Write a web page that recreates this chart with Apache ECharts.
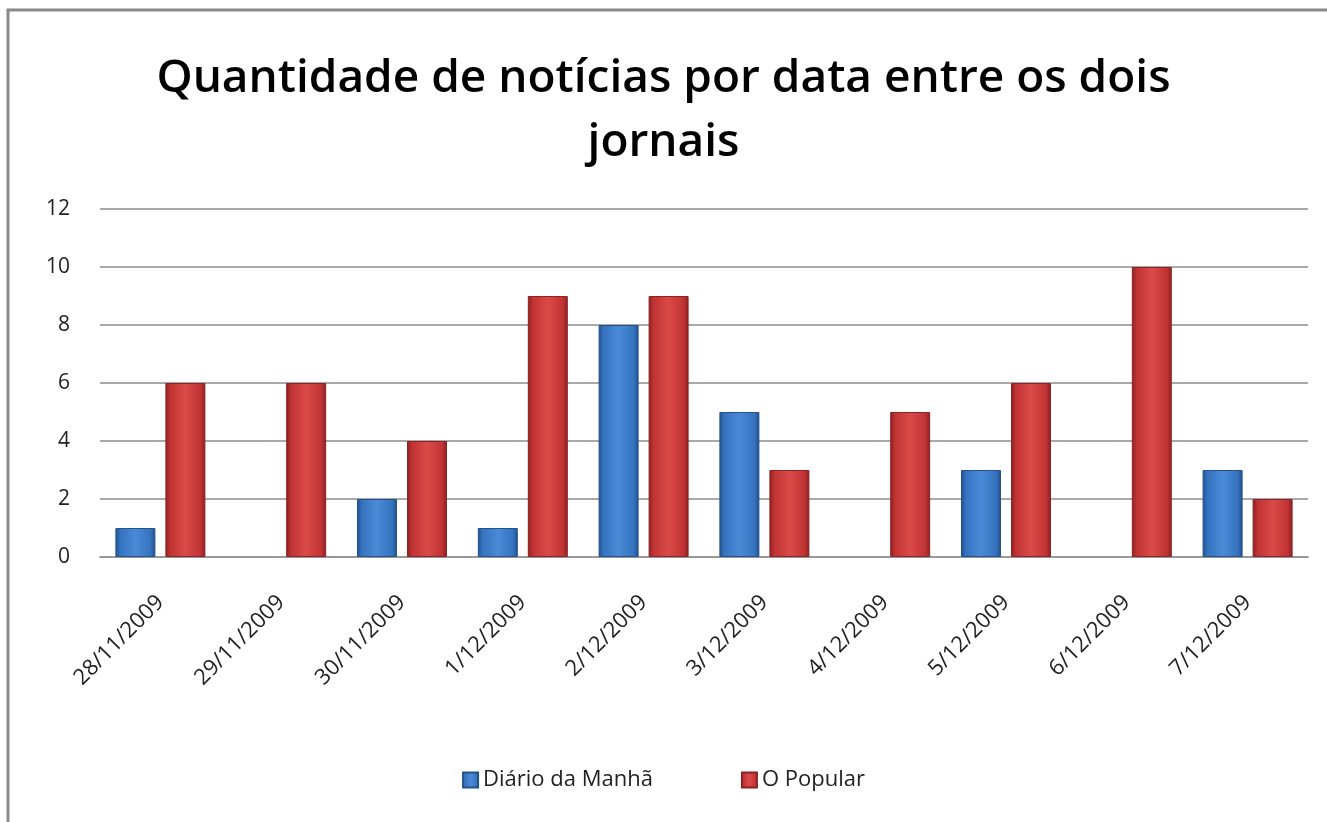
<!DOCTYPE html>
<html>
<head>
<meta charset="utf-8">
<script src="https://cdn.jsdelivr.net/npm/echarts@6/dist/echarts.min.js"></script>
<style>
  html, body { margin: 0; padding: 0; background: #fff; }
  #chart { width: 1327px; height: 822px; }
</style>
</head>
<body>
<div id="chart"></div>
<script>
const dates = ['28/11/2009', '29/11/2009', '30/11/2009', '1/12/2009', '2/12/2009',
  '3/12/2009', '4/12/2009', '5/12/2009', '6/12/2009', '7/12/2009']
const diarioDaManha = [1, 0, 2, 1, 8, 5, 0, 3, 0, 3]
const oPopular = [6, 6, 4, 9, 9, 3, 5, 6, 10, 2]
const yTicks = { min: 0, max: 12, interval: 2 }

const font = '"Open Sans", "Liberation Sans", sans-serif'

// bevelled look of the old office bars
function bevel(dark, mid, light) {
  return new echarts.graphic.LinearGradient(0, 0, 1, 0, [
    { offset: 0, color: dark },
    { offset: 0.12, color: mid },
    { offset: 0.5, color: light },
    { offset: 0.88, color: mid },
    { offset: 1, color: dark }
  ])
}

// empty days draw no bar at all
const noZero = arr => arr.map(v => (v === 0 ? '-' : v))

const chart = echarts.init(document.getElementById('chart'))
chart.setOption({
  animation: false,
  backgroundColor: '#fff',
  graphic: [{
    type: 'rect',
    shape: { x: 8, y: 10, width: 1340, height: 830 },
    style: { fill: 'none', stroke: '#8a8a8a', lineWidth: 3 },
    silent: true
  }],
  title: {
    text: 'Quantidade de notícias por data entre os dois\njornais',
    left: 'center',
    top: 42,
    textStyle: {
      fontFamily: font,
      fontSize: 46,
      fontWeight: 600,
      color: '#000',
      lineHeight: 64
    }
  },
  legend: {
    bottom: 26,
    left: 'center',
    itemWidth: 15,
    itemHeight: 15,
    itemGap: 88,
    icon: 'rect',
    textStyle: { fontFamily: font, fontSize: 22, color: '#222' },
    data: ['Diário da Manhã', 'O Popular']
  },
  grid: { left: 100, right: 19, top: 209, bottom: 265 },
  xAxis: {
    type: 'category',
    data: dates,
    axisLine: { lineStyle: { color: '#999', width: 2 } },
    axisTick: { show: false },
    axisLabel: {
      rotate: 45,
      interval: 0,
      margin: 42,
      fontFamily: font,
      fontSize: 22,
      color: '#222'
    }
  },
  yAxis: {
    type: 'value',
    min: yTicks.min,
    max: yTicks.max,
    interval: yTicks.interval,
    axisLine: { show: false },
    axisTick: { show: false },
    axisLabel: { margin: 30, fontFamily: font, fontSize: 21, color: '#222' },
    splitLine: { lineStyle: { color: '#8c8c8c', width: 1.5 } }
  },
  series: [
    {
      name: 'Diário da Manhã',
      type: 'bar',
      data: noZero(diarioDaManha),
      barWidth: 40,
      barGap: '25%',
      itemStyle: {
        color: bevel('#1f4f8c', '#3573bf', '#4a8ad6'),
        borderColor: '#24528a',
        borderWidth: 1
      }
    },
    {
      name: 'O Popular',
      type: 'bar',
      data: noZero(oPopular),
      barWidth: 40,
      itemStyle: {
        color: bevel('#8a1f20', '#c03334', '#da4a48'),
        borderColor: '#8c2324',
        borderWidth: 1
      }
    }
  ]
})
</script>
</body>
</html>
